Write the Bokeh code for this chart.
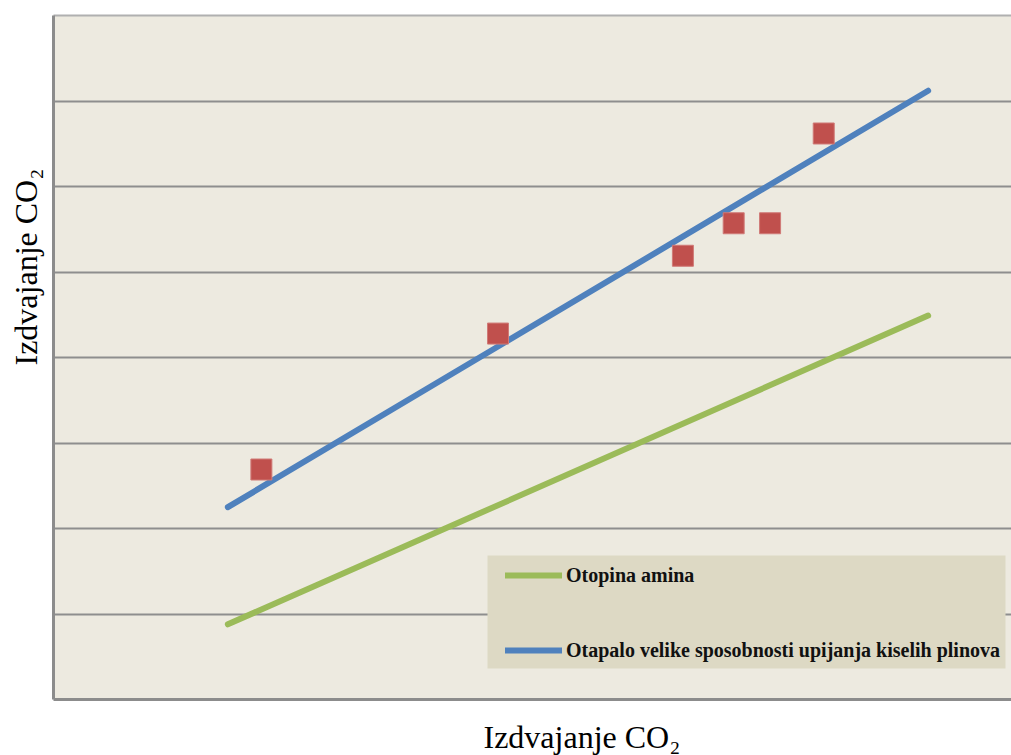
from bokeh.plotting import figure
from bokeh.models import (Range1d, FixedTicker, LinearAxis, Legend, LegendItem, Grid, Title,
                          BoxAnnotation)
from bokeh.embed import file_html
from bokeh.resources import INLINE

# ---- data (arbitrary units) ----
series_names = ["Otopina amina", "Otapalo velike sposobnosti upijanja kiselih plinova"]
line_x = [1.82, 9.13]
green_y = [0.88, 4.49]
blue_y = [2.25, 7.12]
sample_x = [2.17, 4.64, 6.57, 7.10, 7.48, 8.04]
sample_y = [2.69, 4.28, 5.19, 5.57, 5.57, 6.62]
grid_ticks = [1, 2, 3, 4, 5, 6, 7]
axis_title = "Izdvajanje CO\u2082"

p = figure(width=1011, height=755, output_backend="svg", toolbar_location=None,
           x_range=Range1d(0, 10), y_range=Range1d(0, 8),
           min_border_left=53, min_border_right=0, min_border_top=15, min_border_bottom=56,
           background_fill_color="#EDEAE0", border_fill_color="white",
           x_axis_type=None, y_axis_type=None)
p.outline_line_color = None

def plain_axis(color, width, gap=None):
    ax = LinearAxis(ticker=FixedTicker(ticks=[]))
    ax.axis_line_color = color
    ax.axis_line_width = width
    ax.major_tick_line_color = None
    ax.minor_tick_line_color = None
    ax.major_label_text_font_size = "0px"
    ax.major_label_standoff = 0
    if gap is not None:
        # invisible label used only as spacing between the frame and the title
        ax.axis_label = "."
        ax.axis_label_text_font_size = "%dpx" % gap[0]
        ax.axis_label_standoff = gap[1]
        ax.axis_label_text_alpha = 0
    return ax

p.add_layout(plain_axis("#8C8C8C", 3, gap=(5, 3)), "left")
p.add_layout(plain_axis("#8C8C8C", 3, gap=(10, 6)), "below")
p.add_layout(plain_axis("#B0B0B0", 2), "above")

grid = Grid(dimension=1, ticker=FixedTicker(ticks=grid_ticks),
            grid_line_color="#8E8E8E", grid_line_width=2)
p.add_layout(grid)

g = p.line(line_x, green_y, line_color="#9BBB59", line_width=6, line_cap="round")
b = p.line(line_x, blue_y, line_color="#4F81BD", line_width=6, line_cap="round")
p.scatter(sample_x, sample_y, marker="square", size=21, fill_color="#C0504D",
          line_color="#D07A77", line_width=1)

# legend background panel (screen pixels relative to the plot frame)
box = BoxAnnotation(left=434, right=952, bottom=31, top=144,
                    left_units="screen", right_units="screen",
                    bottom_units="screen", top_units="screen",
                    fill_color="#DDD9C4", fill_alpha=1, line_color=None)
p.add_layout(box)

legend = Legend(items=[LegendItem(label=series_names[0], renderers=[g]),
                       LegendItem(label=series_names[1], renderers=[b])],
                location=(452, 37), orientation="vertical")
legend.background_fill_alpha = 0
legend.border_line_color = None
legend.padding = 0
legend.margin = 0
legend.spacing = 51
legend.glyph_width = 57
legend.glyph_height = 24
legend.label_height = 24
legend.label_standoff = 4
legend.label_text_font = "Liberation Serif"
legend.label_text_font_style = "bold"
legend.label_text_font_size = "20px"
legend.label_text_color = "#111111"
p.add_layout(legend, "center")

xt = Title(text=axis_title, align="left", offset=430, standoff=0,
           text_font="Liberation Serif", text_font_size="32px",
           text_font_style="normal", text_color="black")
yt = Title(text=axis_title, align="left", offset=334, standoff=0,
           text_font="Liberation Serif", text_font_size="32px",
           text_font_style="normal", text_color="black")
p.add_layout(xt, "below")
p.add_layout(yt, "left")

open("out.html", "w").write(file_html(p, INLINE))
